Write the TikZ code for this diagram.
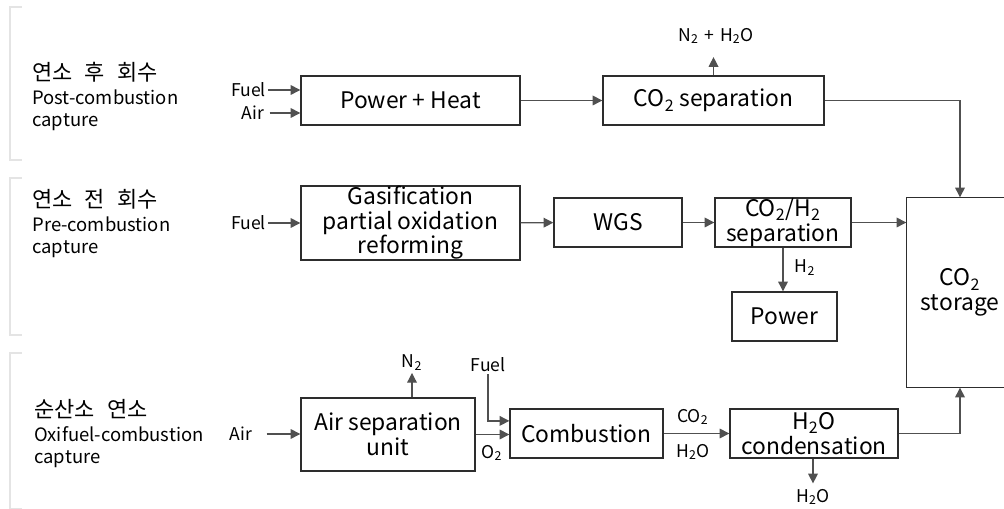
\documentclass[tikz,border=0pt]{standalone}
\usepackage{fontspec}
\setmainfont{Noto Sans CJK KR}
\usetikzlibrary{positioning, arrows.meta, calc}
\definecolor{CCSInk}{RGB}{45,45,45}
\definecolor{CCSFlow}{RGB}{80,80,80}
\definecolor{CCSRule}{RGB}{228,228,228}

\begin{document}
\begin{tikzpicture}[x=0.02cm, y=-0.02cm,
      unit/.style={rectangle, draw=CCSInk, line width=0.8pt, inner sep=0pt,
                   minimum height=0.98cm, align=center,
                   font=\fontsize{13}{14}\selectfont},
      tag/.style={inner sep=1pt, font=\fontsize{10}{11}\selectfont},
      route/.style={inner sep=0pt, align=left, anchor=north west,
                    font=\fontsize{10.5}{12.2}\selectfont},
      flow/.style={CCSFlow, line width=0.7pt, -{Triangle[length=5.5pt, width=5.5pt]}},
      rule/.style={CCSRule, line width=0.6pt}
    ]
    \useasboundingbox (0,0) rectangle (1004,509);

    % Capture routes
    \foreach \ya/\yb in {7/160, 178/335, 353/509}
      \draw[rule] (22,\ya) -| (10,\yb) -- (22,\yb);
    \node[route] (post) at (32,62)
          {{\fontsize{12.5}{13}\selectfont\spaceskip=0.55em 연소 후 회수}\\[1.5pt]Post-combustion\\capture};
    \node[route] (pre) at (32,189)
          {{\fontsize{12.5}{13}\selectfont\spaceskip=0.55em 연소 전 회수}\\[1.5pt]Pre-combustion\\capture};
    \node[route] (oxi) at (34,399)
          {{\fontsize{12.5}{13}\selectfont\spaceskip=0.55em 순산소 연소}\\[1.5pt]Oxifuel-combustion\\capture};

    % Post-combustion line
    \node[unit, minimum width=4.38cm] (heat) at (410.5,100.5) {Power + Heat};
    \node[unit, minimum width=4.42cm] (cosep) at (713.5,100.5) {CO\textsubscript{2} separation};
    \node[tag, anchor=east] (fuelA) at (268,90) {Fuel};
    \node[tag, anchor=east] (airA) at (266,113) {Air};
    \node[tag] (stack) at (716,36) {N\textsubscript{2}\,\,+\,\,H\textsubscript{2}O};

    % Pre-combustion line
    \node[unit, minimum width=4.38cm, minimum height=1.48cm] (gasif) at (410.5,223)
          {Gasification\\partial oxidation\\reforming};
    \node[unit, minimum width=2.56cm] (wgs) at (618,222.5) {WGS};
    \node[unit, minimum width=2.72cm] (shift) at (783,222.5)
          {CO\textsubscript{2}/H\textsubscript{2}\\separation};
    \node[unit, minimum width=2.1cm] (power) at (784.5,316.5) {Power};
    \node[tag, anchor=east] (fuelB) at (268,223) {Fuel};
    \node[tag] (hydro) at (805,268) {H\textsubscript{2}};

    % Storage
    \node[unit, draw=none, minimum width=2.12cm, minimum height=3.78cm] (storage) at (960,292.5)
          {CO\textsubscript{2}\\storage};
    \draw[CCSInk, line width=0.8pt] (storage.north east) -- (storage.north west)
          -- (storage.south west) -- (storage.south east);

    % Oxyfuel line
    \node[unit, minimum width=3.48cm, minimum height=1.46cm] (asu) at (388,434.5)
          {Air separation\\unit};
    \node[unit, minimum width=3.06cm] (comb) at (586.5,433.5) {Combustion};
    \node[unit, minimum width=3.36cm] (cond) at (814,433.5) {H\textsubscript{2}O\\condensation};
    \node[tag, anchor=east] (airC) at (254,434) {Air};
    \node[tag] (nitro) at (412,363) {N\textsubscript{2}};
    \node[tag] (fuelC) at (488,365) {Fuel};
    \node[tag] (oxy) at (492,453) {O\textsubscript{2}};
    \node[tag] (flueA) at (693,417) {CO\textsubscript{2}};
    \node[tag] (flueB) at (693,452) {H\textsubscript{2}O};
    \node[tag] (water) at (813,497) {H\textsubscript{2}O};

    % Flows
    \draw[flow] (fuelA) -- (fuelA -| heat.west);
    \draw[flow] ([xshift=2pt]airA.east) -- (airA -| heat.west);
    \draw[flow] (heat) -- (cosep);
    \draw[flow, shorten >=0.22cm] (cosep.north) -- (cosep.north |- stack.south);
    \draw[flow] (cosep) -| (storage);
    \draw[flow] (fuelB) -- (gasif);
    \draw[flow] (gasif) -- (wgs);
    \draw[flow] (wgs) -- (shift);
    \draw[flow] (shift) -- (shift -| storage.west);
    \draw[flow] (shift.south) -- (shift.south |- power.north);
    \draw[flow] ([xshift=0.25cm]airC.east) -- (airC -| asu.west);
    \draw[flow] (nitro |- asu.north) -- (nitro);
    \draw[flow] (asu) -- (asu -| comb.west);
    \draw[flow] (fuelC) |- ($(comb.north west)!0.25!(comb.south west)$);
    \draw[flow] (comb) -- (cond);
    \draw[flow, shorten >=2pt] (cond.south -| water) -- (water);
    \draw[flow] (cond) -| (storage);
  \end{tikzpicture}
\end{document}
